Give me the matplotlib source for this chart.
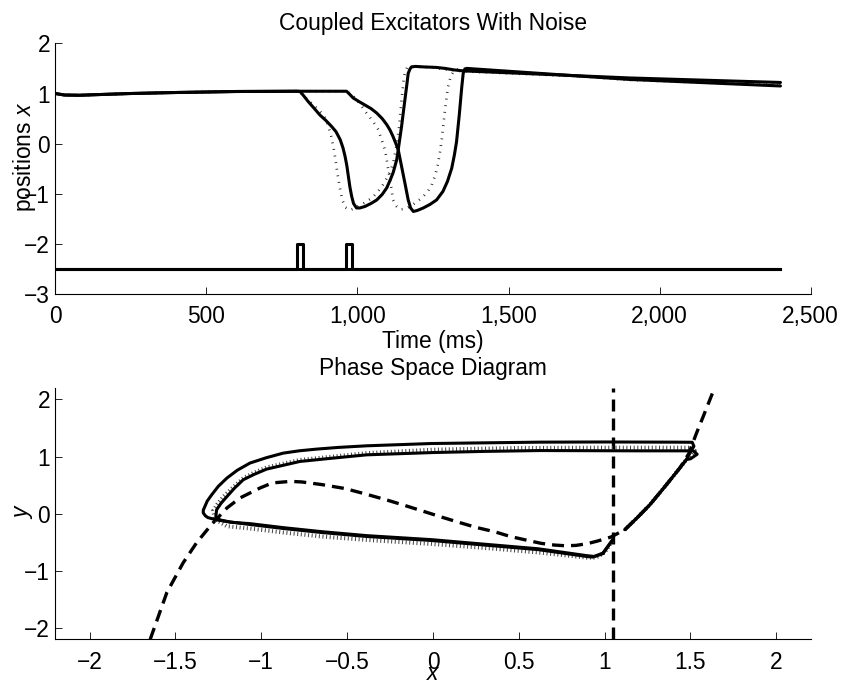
import numpy as np
import matplotlib
matplotlib.use('Agg')
import matplotlib.pyplot as plt

plt.rcParams['font.family'] = ['Liberation Sans', 'DejaVu Sans']
plt.rcParams['mathtext.fontset'] = 'custom'
plt.rcParams['mathtext.rm'] = 'Liberation Sans'
plt.rcParams['mathtext.it'] = 'Liberation Sans:italic'
plt.rcParams['font.size'] = 16.4

# ---- time traces -------------------------------------------------------
# resting level before the stimuli, shared by every trace
rest_t = [0, 30, 80, 150, 250, 400, 600, 800]
rest_x = [1.0, 0.97, 0.965, 0.98, 1.0, 1.02, 1.04, 1.045]

# noisy excitator 1
n1_t = [810, 820, 837, 856, 876, 896, 915, 929, 943, 952, 959, 965, 970, 975,
        981, 987, 997, 1008, 1025, 1045, 1064, 1082, 1097, 1108, 1118, 1130,
        1135, 1146, 1152, 1157, 1163, 1168, 1174, 1179, 1192, 1218, 1260,
        1290, 1320, 1352, 1900, 2400]
n1_x = [1.04, 0.97, 0.84, 0.71, 0.57, 0.46, 0.34, 0.24, 0.08, -0.08, -0.25,
        -0.44, -0.65, -0.86, -1.05, -1.19, -1.28, -1.28, -1.25, -1.19, -1.12,
        -1.01, -0.88, -0.73, -0.58, -0.32, -0.12, 0.34, 0.63, 0.87, 1.15,
        1.40, 1.49, 1.53, 1.54, 1.53, 1.52, 1.50, 1.47, 1.45, 1.31, 1.22]

# noisy excitator 2
n2_t = [964, 975, 986, 1005, 1025, 1045, 1064, 1082, 1097, 1108, 1118, 1128,
        1135, 1146, 1157, 1168, 1176, 1185, 1198, 1218, 1240, 1262, 1283,
        1298, 1312, 1321, 1328, 1337, 1345, 1350, 1355, 1361, 1900, 2400]
n2_x = [1.045, 0.98, 0.91, 0.84, 0.77, 0.70, 0.61, 0.50, 0.38, 0.27, 0.14,
        -0.01, -0.12, -0.45, -0.78, -1.12, -1.28, -1.35, -1.33, -1.28, -1.21,
        -1.12, -0.95, -0.75, -0.49, -0.22, 0.04, 0.57, 1.11, 1.40, 1.48, 1.50,
        1.28, 1.15]

# same pair without noise
c1_t = [810, 825, 840, 860, 880, 892, 902, 912, 920, 927, 934, 942, 950, 960,
        975, 990, 1008, 1028, 1048, 1066, 1084, 1098, 1111, 1120, 1127, 1137,
        1146, 1154, 1159, 1164, 1180, 1217, 1260, 1290, 1320, 1352, 1900, 2400]
c1_x = [1.04, 0.93, 0.85, 0.74, 0.62, 0.52, 0.38, 0.18, -0.05, -0.30, -0.60,
        -0.88, -1.12, -1.27, -1.32, -1.29, -1.23, -1.16, -1.08, -0.97, -0.82,
        -0.68, -0.52, -0.33, -0.12, 0.28, 0.87, 1.33, 1.45, 1.51, 1.53, 1.53,
        1.51, 1.48, 1.46, 1.44, 1.30, 1.19]

c2_t = [964, 986, 1008, 1030, 1052, 1069, 1080, 1091, 1097, 1102, 1108, 1113,
        1118, 1124, 1130, 1141, 1156, 1174, 1194, 1213, 1232, 1246, 1258, 1266,
        1273, 1279, 1289, 1299, 1309, 1318, 1326, 1340, 1359, 1900, 2400]
c2_x = [1.045, 0.95, 0.80, 0.61, 0.44, 0.28, 0.08, -0.12, -0.32, -0.52, -0.72,
        -0.92, -1.12, -1.20, -1.25, -1.31, -1.30, -1.25, -1.17, -1.08, -0.96,
        -0.82, -0.62, -0.42, -0.17, 0.08, 0.63, 1.11, 1.35, 1.43, 1.47, 1.49,
        1.50, 1.27, 1.16]

# stimulus pulses
stim_on = [801, 963]
stim_width = 19
stim_base, stim_top = -2.5, -2.0
t_end = 2400

time_ticks = [0, 500, 1000, 1500, 2000, 2500]
time_labels = ['0', '500', '1,000', '1,500', '2,000', '2,500']

# ---- phase plane -------------------------------------------------------
# x-nullcline (cubic) and y-nullcline (vertical)
null_x = [-1.647, -1.55, -1.455, -1.377, -1.29, -1.20, -1.124, -1.007, -0.936,
          -0.83, -0.764, -0.65, -0.513, -0.40, -0.263, -0.15, -0.044, 0.05,
          0.144, 0.25, 0.363, 0.45, 0.551, 0.63, 0.707, 0.77, 0.833, 0.90,
          0.958, 1.036, 1.118, 1.19, 1.264, 1.36, 1.438, 1.49, 1.535, 1.574,
          1.64]
null_y = [-2.2, -1.38, -0.86, -0.51, -0.19, 0.10, 0.275, 0.45, 0.538, 0.565,
          0.555, 0.51, 0.44, 0.35, 0.234, 0.13, 0.03, -0.06, -0.146, -0.24,
          -0.32, -0.40, -0.468, -0.52, -0.550, -0.562, -0.556, -0.525, -0.480,
          -0.41, -0.28, -0.07, 0.158, 0.507, 0.80, 1.05, 1.41, 1.70, 2.2]
y_null = 1.05

# slow right branch climbed by all orbits
right_x = [1.118, 1.19, 1.264, 1.36, 1.438, 1.477]
right_y = [-0.28, -0.07, 0.158, 0.507, 0.80, 0.95]

outer_x = [1.50, 1.52, 1.51, 1.40, 1.0, 0.62, 0.3, -0.01, -0.386, -0.55,
           -0.678, -0.78, -0.872, -0.97, -1.066, -1.14, -1.20, -1.25, -1.289,
           -1.315, -1.328, -1.338, -1.338, -1.325, -1.31, -1.26, -1.17, -1.066,
           -0.872, -0.65, -0.386, -0.01, 0.30, 0.613, 0.895, 0.93, 0.99, 1.05]
outer_y = [1.08, 1.18, 1.25, 1.252, 1.255, 1.252, 1.24, 1.228, 1.188, 1.16,
           1.13, 1.10, 1.06, 0.98, 0.886, 0.76, 0.624, 0.48, 0.33, 0.22, 0.13,
           0.06, 0.013, -0.04, -0.07, -0.11, -0.15, -0.19, -0.26, -0.33, -0.40,
           -0.47, -0.55, -0.63, -0.75, -0.76, -0.70, -0.45]

inner_x = [1.50, 1.539, 1.516, 1.2, 0.623, 0.3, 0.0, -0.386, -0.581, -0.775,
           -0.969, -1.04, -1.105, -1.155, -1.20, -1.235, -1.26, -1.265, -1.24,
           -1.18, -1.066, -0.872, -0.65, -0.386, -0.01, 0.30, 0.613, 0.895,
           0.94, 0.99, 1.05]
inner_y = [0.96, 1.04, 1.10, 1.10, 1.105, 1.09, 1.07, 1.03, 0.973, 0.914, 0.78,
           0.69, 0.594, 0.45, 0.30, 0.18, 0.07, -0.05, -0.11, -0.15, -0.175,
           -0.245, -0.315, -0.385, -0.455, -0.535, -0.615, -0.735, -0.75, -0.69,
           -0.44]

clean_x = [1.50, 1.525, 1.50, 1.0, 0.5, 0.0, -0.386, -0.581, -0.775, -0.969,
           -1.04, -1.105, -1.165, -1.22, -1.255, -1.28, -1.27, -1.2, -1.066,
           -0.872, -0.65, -0.386, -0.01, 0.30, 0.613, 0.895, 0.95, 1.0, 1.05]
clean_y = [1.0, 1.10, 1.155, 1.155, 1.15, 1.12, 1.06, 1.0, 0.94, 0.81, 0.72,
           0.62, 0.46, 0.30, 0.17, 0.05, -0.10, -0.22, -0.26, -0.33, -0.40,
           -0.46, -0.53, -0.60, -0.68, -0.77, -0.77, -0.68, -0.45]

phase_ticks_x = [-2, -1.5, -1, -0.5, 0, 0.5, 1, 1.5, 2]
phase_labels_x = ['\u22122', '\u22121.5', '\u22121', '\u22120.5', '0', '0.5',
                  '1', '1.5', '2']
phase_ticks_y = [-2, -1, 0, 1, 2]


def style_axes(ax, xpad, ypad):
    for side in ('top', 'right'):
        ax.spines[side].set_visible(False)
    for side in ('left', 'bottom'):
        ax.spines[side].set_linewidth(0.8)
    ax.tick_params(direction='in', length=5, width=0.6)
    ax.tick_params(axis='x', pad=xpad)
    ax.tick_params(axis='y', pad=ypad)


fig = plt.figure(figsize=(8.44, 6.83), dpi=100, facecolor='white')

# top: positions against time
ax1 = fig.add_axes([0.0655, 0.5691, 0.895, 0.3675])
solid = dict(color='black', lw=2.2, solid_joinstyle='round',
             solid_capstyle='round')
dotted = dict(color='#222222', lw=1.9, dashes=(0.33, 2.2), dash_capstyle='butt')

ax1.plot(rest_t + c1_t, rest_x + c1_x, **dotted)
ax1.plot(rest_t + c2_t, rest_x + c2_x, **dotted)
ax1.plot(rest_t + n1_t, rest_x + n1_x, **solid)
ax1.plot(rest_t + n2_t, rest_x + n2_x, **solid)
for on in stim_on:
    ax1.plot([0, on, on, on + stim_width, on + stim_width, t_end],
             [stim_base, stim_base, stim_top, stim_top, stim_base, stim_base],
             color='black', lw=2.2)

ax1.set_xlim(0, 2500)
ax1.set_ylim(-3, 2)
ax1.set_xticks(time_ticks)
ax1.set_xticklabels(time_labels)
ax1.set_yticks([-3, -2, -1, 0, 1, 2])
style_axes(ax1, 7.5, 3.8)
ax1.set_title('Coupled Excitators With Noise', fontsize=16.4, pad=9.3)
ax1.set_xlabel('Time (ms)', fontsize=16.4)
ax1.xaxis.set_label_coords(0.5, -0.143)
ax1.set_ylabel('positions $x$', fontsize=16.4)
ax1.yaxis.set_label_coords(-0.0235, 0.548)

# bottom: phase plane
ax2 = fig.add_axes([0.0655, 0.064, 0.895, 0.3679])
dash = dict(color='black', lw=2.4, dashes=(3.6, 2.1))
ax2.plot(null_x, null_y, **dash)
ax2.axvline(y_null, **dash)

dotted_ph = dict(color='#444444', lw=2.9, dashes=(0.25, 0.65),
                 dash_capstyle='butt')
ax2.plot(right_x + clean_x, right_y + clean_y, **dotted_ph)
ax2.plot(right_x + outer_x, right_y + outer_y, **solid)
ax2.plot(right_x + inner_x, right_y + inner_y, **solid)

ax2.set_xlim(-2.2, 2.2)
ax2.set_ylim(-2.2, 2.2)
ax2.set_xticks(phase_ticks_x)
ax2.set_xticklabels(phase_labels_x)
ax2.set_yticks(phase_ticks_y)
style_axes(ax2, 8.7, 3.8)
ax2.set_title('Phase Space Diagram', fontsize=16.4, pad=9.5)
ax2.set_xlabel('x', fontsize=16.4, style='italic')
ax2.xaxis.set_label_coords(0.5, -0.090)
ax2.set_ylabel('y', fontsize=16.4, style='italic')
ax2.yaxis.set_label_coords(-0.028, 0.503)

fig.savefig('out.png', dpi=100, facecolor='white')
